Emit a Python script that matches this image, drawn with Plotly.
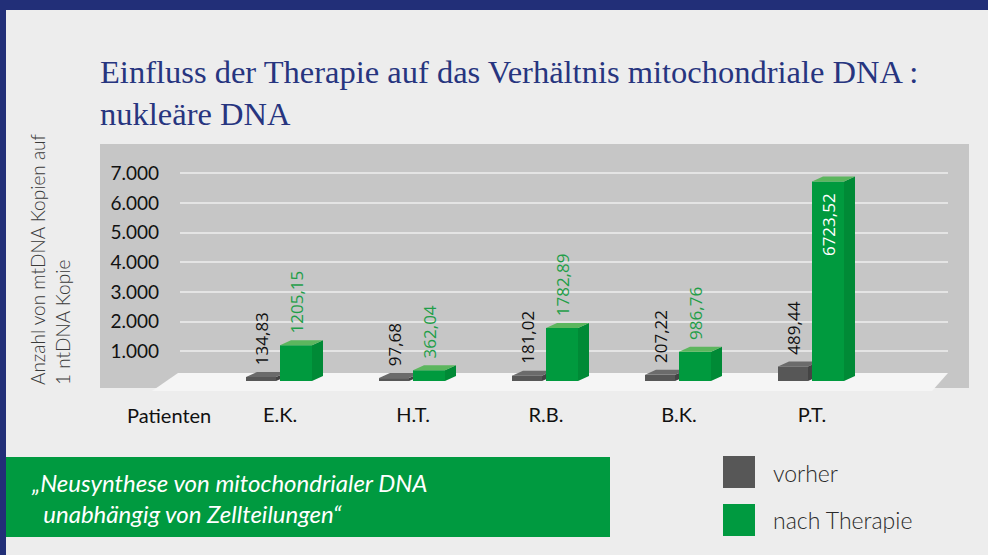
import plotly.graph_objects as go

# ---------------- data ----------------
patients = ["E.K.", "H.T.", "R.B.", "B.K.", "P.T."]
before = [134.83, 97.68, 181.02, 207.22, 489.44]
after = [1205.15, 362.04, 1782.89, 986.76, 6723.52]
series_names = ["vorher", "nach Therapie"]
y_ticks = [1000, 2000, 3000, 4000, 5000, 6000, 7000]
title_text = "Einfluss der Therapie auf das Verhältnis mitochondriale DNA :<br>nukleäre DNA"
y_title = "Anzahl von mtDNA Kopien auf<br>1 ntDNA Kopie"
x_label = "Patienten"
quote_text = "„Neusynthese von mitochondrialer DNA<br>\u00a0\u00a0unabhängig von Zellteilungen“"

# ---------------- geometry / style ----------------
W, H = 988, 555
ML, MR, MT, MB = 180, 40, 150, 174
PW = W - ML - MR
PH = H - MT - MB
PX_PER_CAT = 133.0
C0 = 280
X_RANGE = [(ML - C0) / PX_PER_CAT, (W - MR - C0) / PX_PER_CAT]
PX_PER_1000 = 29.67
Y_MAX = PH / PX_PER_1000 * 1000
ux = 1 / PX_PER_CAT
uy = 1000 / PX_PER_1000
DEPTH_X, DEPTH_Y = 11, 5

NAVY = "#222f78"
BG = "#ededed"
PANEL = "#c6c6c6"
FLOOR = "#f5f5f5"
DARK, DARK_SIDE, DARK_TOP = "#575757", "#444444", "#6b6b6b"
GREEN, GREEN_SIDE, GREEN_TOP = "#009a3e", "#008a36", "#5cb65e"
LABEL_GREEN = "#1f9e48"
SANS = "Lato"
VAL_FONT = "Open Sans"


def xp(px):
    return (px - ML) / PW


def yp(py):
    return (H - MB - py) / PH


def fmt(v):
    return f"{v:.2f}".replace(".", ",")


def faces(values, off_px, w_px, clip_px=None):
    sx, sy, tx, ty = [], [], [], []
    dx, dy = DEPTH_X * ux, DEPTH_Y * uy
    for i, v in enumerate(values):
        x0 = i + off_px * ux
        x1 = x0 + w_px * ux
        if clip_px is None:
            s_x = [x1, x1 + dx, x1 + dx, x1, x1]
            s_y = [0, dy, v + dy, v, 0]
            t_x = [x0, x1, x1 + dx, x0 + dx, x0]
            t_y = [v, v, v + dy, v + dy, v]
        else:
            xc = i + clip_px * ux
            f = (xc - x1) / dx
            s_x = [x1, xc, xc, x1, x1]
            s_y = [0, dy * f, v + dy * f, v, 0]
            t_x = [x0, x1, xc, xc, x0 + dx, x0]
            t_y = [v, v, v + dy * f, v + dy, v + dy, v]
        sx += s_x + [None]
        sy += s_y + [None]
        tx += t_x + [None]
        ty += t_y + [None]
    return sx, sy, tx, ty


xs = list(range(len(patients)))
fig = go.Figure()

# dark bars ("vorher")
fig.add_trace(go.Bar(
    x=xs, y=before, name=series_names[0], offset=-34 * ux, width=30 * ux,
    marker=dict(color=DARK, line=dict(width=0)),
    text=["\u00a0\u00a0" + fmt(v) for v in before], textposition="outside",
    textangle=-90, constraintext="none", cliponaxis=False,
    textfont=dict(family=VAL_FONT, size=17, color="#111111"),
    showlegend=False, hoverinfo="skip"))

# green bars ("nach Therapie")
inside = [v > 0.5 * max(after) for v in after]
fig.add_trace(go.Bar(
    x=xs, y=after, name=series_names[1], offset=0, width=32 * ux,
    marker=dict(color=GREEN, line=dict(width=0)),
    text=[(fmt(v) + "\u00a0\u00a0") if ins else ("\u00a0\u00a0" + fmt(v))
          for v, ins in zip(after, inside)],
    textposition=["inside" if ins else "outside" for ins in inside],
    insidetextanchor="end", textangle=-90, constraintext="none", cliponaxis=False,
    outsidetextfont=dict(family=VAL_FONT, size=17, color=LABEL_GREEN),
    insidetextfont=dict(family=VAL_FONT, size=17, color="white"),
    showlegend=False, hoverinfo="skip"))

# 3D faces
dsx, dsy, dtx, dty = faces(before, -34, 30, clip_px=0)
gsx, gsy, gtx, gty = faces(after, 0, 32)
for fx, fy, col in [(dsx, dsy, DARK_SIDE), (dtx, dty, DARK_TOP),
                    (gsx, gsy, GREEN_SIDE), (gtx, gty, GREEN_TOP)]:
    fig.add_trace(go.Scatter(x=fx, y=fy, mode="lines", fill="toself",
                             fillcolor=col, line=dict(width=0, color=col),
                             showlegend=False, hoverinfo="skip"))

shapes = [
    dict(type="rect", xref="paper", yref="paper", x0=xp(100), x1=xp(969),
         y0=yp(388), y1=yp(144), fillcolor=PANEL, line=dict(width=0), layer="below"),
    dict(type="path", xref="paper", yref="paper",
         path=f"M {xp(178)} {yp(373)} L {xp(948)} {yp(373)} L {xp(932)} {yp(391)} L {xp(152)} {yp(391)} Z",
         fillcolor=FLOOR, line=dict(width=0), layer="below"),
    dict(type="rect", xref="paper", yref="paper", x0=xp(0), x1=xp(W),
         y0=yp(10), y1=yp(0), fillcolor=NAVY, line=dict(width=0), layer="below"),
    dict(type="rect", xref="paper", yref="paper", x0=xp(0), x1=xp(6),
         y0=yp(H), y1=yp(0), fillcolor=NAVY, line=dict(width=0), layer="below"),
    dict(type="rect", xref="paper", yref="paper", x0=xp(6), x1=xp(610),
         y0=yp(537), y1=yp(457), fillcolor="#009a40", line=dict(width=0), layer="below"),
    dict(type="rect", xref="paper", yref="paper", x0=xp(723), x1=xp(755),
         y0=yp(488), y1=yp(456), fillcolor=DARK, line=dict(width=0), layer="below"),
    dict(type="rect", xref="paper", yref="paper", x0=xp(723), x1=xp(755),
         y0=yp(536), y1=yp(504), fillcolor="#009a40", line=dict(width=0), layer="below"),
]

annotations = [
    dict(text=title_text, xref="paper", yref="paper", x=xp(98), y=yp(52),
         xanchor="left", yanchor="top", align="left", showarrow=False,
         font=dict(family="Liberation Serif", size=32.5, color="#27357f")),
    dict(text=y_title, xref="paper", yref="paper", x=xp(50), y=yp(259),
         xanchor="center", yanchor="middle", align="left", textangle=-90,
         showarrow=False, font=dict(family=SANS, size=19, color="#3a3a3a", weight=300)),
    dict(text=x_label, xref="paper", yref="paper", x=xp(169), y=yp(415),
         xanchor="center", yanchor="middle", showarrow=False,
         font=dict(family=SANS, size=20, color="#111111")),
    dict(text=quote_text, xref="paper", yref="paper", x=xp(29), y=yp(498),
         xanchor="left", yanchor="middle", align="left", showarrow=False,
         font=dict(family=SANS, size=24, color="white", style="italic")),
    dict(text=series_names[0], xref="paper", yref="paper", x=xp(771), y=yp(473),
         xanchor="left", yanchor="middle", showarrow=False,
         font=dict(family=SANS, size=23, color="#2a2a2a", weight=300)),
    dict(text=series_names[1], xref="paper", yref="paper", x=xp(771), y=yp(520),
         xanchor="left", yanchor="middle", showarrow=False,
         font=dict(family=SANS, size=23, color="#2a2a2a", weight=300)),
]

fig.update_layout(
    width=W, height=H,
    margin=dict(l=ML, r=MR, t=MT, b=MB, pad=0),
    paper_bgcolor=BG, plot_bgcolor="rgba(0,0,0,0)",
    barmode="overlay",
    showlegend=False,
    shapes=shapes, annotations=annotations,
    xaxis=dict(range=X_RANGE, tickvals=xs, ticktext=patients, showgrid=False,
               zeroline=False, showline=False, ticks="", ticklabelstandoff=20,
               tickfont=dict(family=SANS, size=20, color="#111111"), fixedrange=True),
    yaxis=dict(range=[0, Y_MAX], tickvals=y_ticks,
               ticktext=[f"{t:,}".replace(",", ".") for t in y_ticks],
               showgrid=True, gridcolor="#e4e4e4", gridwidth=1.5, zeroline=False,
               showline=False, ticks="", ticklabelstandoff=20,
               tickfont=dict(family=SANS, size=19, color="#111111"), fixedrange=True),
)

fig.write_html("out.html", config={"displayModeBar": False},
               post_script="document.body.style.margin='0';")
